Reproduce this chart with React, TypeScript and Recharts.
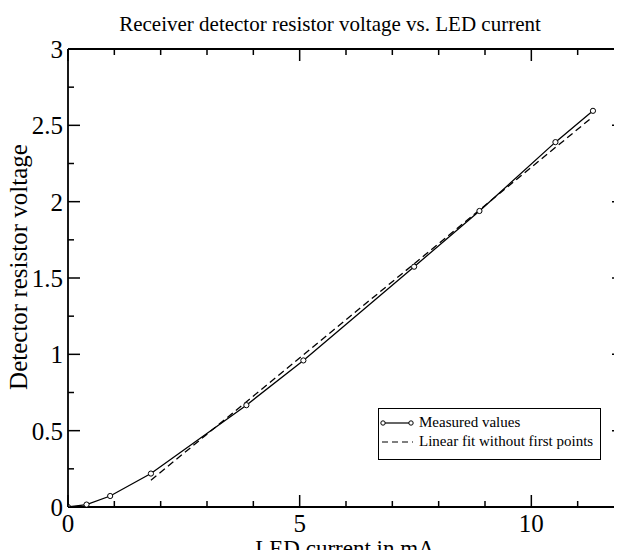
import React from 'react';
import { ComposedChart, Line, XAxis, YAxis, Legend } from 'recharts';

const FONT = '"Liberation Serif", "Times New Roman", Times, serif';

const currentMA = [0, 0.4, 0.91, 1.79, 3.85, 5.08, 7.47, 8.88, 10.52, 11.33];
const voltage = [0, 0.016, 0.072, 0.219, 0.667, 0.96, 1.574, 1.939, 2.39, 2.595];
const fitCurrent = [1.79, 11.29];
const fitVoltage = [0.175, 2.547];

const xTicks = [0, 1, 2, 3, 4, 5, 6, 7, 8, 9, 10, 11, 12];
const xMajor = [0, 5, 10];
const yTicks = [0, 0.25, 0.5, 0.75, 1, 1.25, 1.5, 1.75, 2, 2.25, 2.5, 2.75, 3];
const yMajor = [0, 0.5, 1, 1.5, 2, 2.5, 3];

const seriesNames = ['Measured values', 'Linear fit without first points'];
const titleText = 'Receiver detector resistor voltage vs. LED current';
const xLabelText = 'LED current in mA';
const yLabelText = 'Detector resistor voltage';

const measured = currentMA.map((x, i) => ({ x, y: voltage[i] }));
const fit = fitCurrent.map((x, i) => ({ x, y: fitVoltage[i] }));

const INK = '#000';
const isMajor = (arr: number[], v: number) => arr.some((m) => Math.abs(m - v) < 1e-9);

const BottomTick = (props: any) => {
  const { x, y, payload } = props;
  const major = isMajor(xMajor, payload.value);
  return (
    <g>
      <line x1={x} x2={x} y1={y} y2={y - (major ? 12 : 6)} stroke={INK} strokeWidth={1.5} />
      {major && (
        <text x={x} y={y + 25} textAnchor="middle" fontSize={25} fontFamily={FONT} fill={INK}>
          {payload.value}
        </text>
      )}
    </g>
  );
};

const TopTick = (props: any) => {
  const { x, y, payload } = props;
  const major = isMajor(xMajor, payload.value);
  return <line x1={x} x2={x} y1={y} y2={y + (major ? 12 : 6)} stroke={INK} strokeWidth={1.5} />;
};

const LeftTick = (props: any) => {
  const { x, y, payload } = props;
  const major = isMajor(yMajor, payload.value);
  return (
    <g>
      <line x1={x} x2={x + (major ? 12 : 6)} y1={y} y2={y} stroke={INK} strokeWidth={1.5} />
      {major && (
        <text x={x - 5} y={y + 9} textAnchor="end" fontSize={25} fontFamily={FONT} fill={INK}>
          {String(payload.value)}
        </text>
      )}
    </g>
  );
};

const RightTick = (props: any) => {
  const { x, y, payload } = props;
  const major = isMajor(yMajor, payload.value);
  return <line x1={x} x2={x - (major ? 12 : 6)} y1={y} y2={y} stroke={INK} strokeWidth={1.5} />;
};

const LegendBox = (props: any) => {
  const payload = [...(props.payload || [])].sort(
    (a: any, b: any) => seriesNames.indexOf(a.value) - seriesNames.indexOf(b.value)
  );
  return (
    <div
      style={{
        border: '1px solid #000',
        background: '#fff',
        width: 221,
        height: 46,
        boxSizing: 'content-box',
        fontFamily: FONT,
        fontSize: 15,
        color: '#000',
        paddingTop: 4,
      }}
    >
      {payload.map((entry: any, i: number) => (
        <div key={i} style={{ display: 'flex', alignItems: 'center', height: 19, whiteSpace: 'nowrap' }}>
          <svg width={36} height={10} style={{ marginLeft: 1, marginRight: 3 }}>
            {entry.value === seriesNames[0] ? (
              <g>
                <line x1={3} x2={31} y1={5} y2={5} stroke="#000" strokeWidth={1.2} />
                <circle cx={3} cy={5} r={2.2} fill="#fff" stroke="#000" strokeWidth={1} />
                <circle cx={31} cy={5} r={2.2} fill="#fff" stroke="#000" strokeWidth={1} />
              </g>
            ) : (
              <line x1={2} x2={33} y1={5} y2={5} stroke="#000" strokeWidth={1.2} strokeDasharray="6 4" />
            )}
          </svg>
          <span>{entry.value}</span>
        </div>
      ))}
    </div>
  );
};

export default function App() {
  return (
    <div style={{ margin: -8, width: 622, height: 558, overflow: 'hidden', background: '#fff', position: 'relative' }}>
      <ComposedChart
        width={640}
        height={558}
        margin={{ top: 29, right: 6, bottom: 21, left: 8 }}
        style={{ background: '#fff' }}
      >
        <XAxis
          xAxisId="bottom"
          dataKey="x"
          type="number"
          domain={[0, 12]}
          ticks={xTicks}
          interval={0}
          allowDataOverflow
          height={30}
          tickSize={0}
          tickMargin={0}
          tick={<BottomTick />}
          axisLine={{ stroke: INK, strokeWidth: 1.8 }}
          label={{
            content: () => (
              <text x={345} y={556} textAnchor="middle" fontSize={23} fontFamily={FONT} fill={INK}>
                {xLabelText}
              </text>
            ),
          }}
        />
        <XAxis
          xAxisId="top"
          orientation="top"
          dataKey="x"
          type="number"
          domain={[0, 12]}
          ticks={xTicks}
          interval={0}
          allowDataOverflow
          height={20}
          tickSize={0}
          tickMargin={0}
          tick={<TopTick />}
          axisLine={{ stroke: INK, strokeWidth: 1.8 }}
          label={{
            content: () => (
              <text x={330} y={31} textAnchor="middle" fontSize={21} fontFamily={FONT} fill={INK}>
                {titleText}
              </text>
            ),
          }}
        />
        <YAxis
          yAxisId="left"
          type="number"
          domain={[0, 3]}
          ticks={yTicks}
          interval={0}
          allowDataOverflow
          width={60}
          tickSize={0}
          tickMargin={0}
          tick={<LeftTick />}
          axisLine={{ stroke: INK, strokeWidth: 1.8 }}
          label={{
            content: () => (
              <text
                x={27}
                y={267}
                transform="rotate(-90 27 267)"
                textAnchor="middle"
                fontSize={25}
                fontFamily={FONT}
                fill={INK}
              >
                {yLabelText}
              </text>
            ),
          }}
        />
        <YAxis
          yAxisId="right"
          orientation="right"
          type="number"
          domain={[0, 3]}
          ticks={yTicks}
          interval={0}
          allowDataOverflow
          width={10}
          tickSize={0}
          tickMargin={0}
          tick={<RightTick />}
          axisLine={{ stroke: INK, strokeWidth: 1.8 }}
        />
        <Line
          xAxisId="bottom"
          yAxisId="left"
          data={measured}
          dataKey="y"
          name={seriesNames[0]}
          type="linear"
          stroke={INK}
          strokeWidth={1.3}
          dot={{ r: 2.6, fill: '#fff', stroke: INK, strokeWidth: 1 }}
          activeDot={false}
          isAnimationActive={false}
        />
        <Line
          xAxisId="bottom"
          yAxisId="left"
          data={fit}
          dataKey="y"
          name={seriesNames[1]}
          type="linear"
          stroke={INK}
          strokeWidth={1.3}
          strokeDasharray="7 4"
          dot={false}
          activeDot={false}
          isAnimationActive={false}
        />
        <Legend
          layout="vertical"
          align="center"
          verticalAlign="middle"
          content={<LegendBox />}
          wrapperStyle={{ left: 378, top: 408, width: 223, height: 51, bottom: 'auto', right: 'auto' }}
        />
      </ComposedChart>
    </div>
  );
}
